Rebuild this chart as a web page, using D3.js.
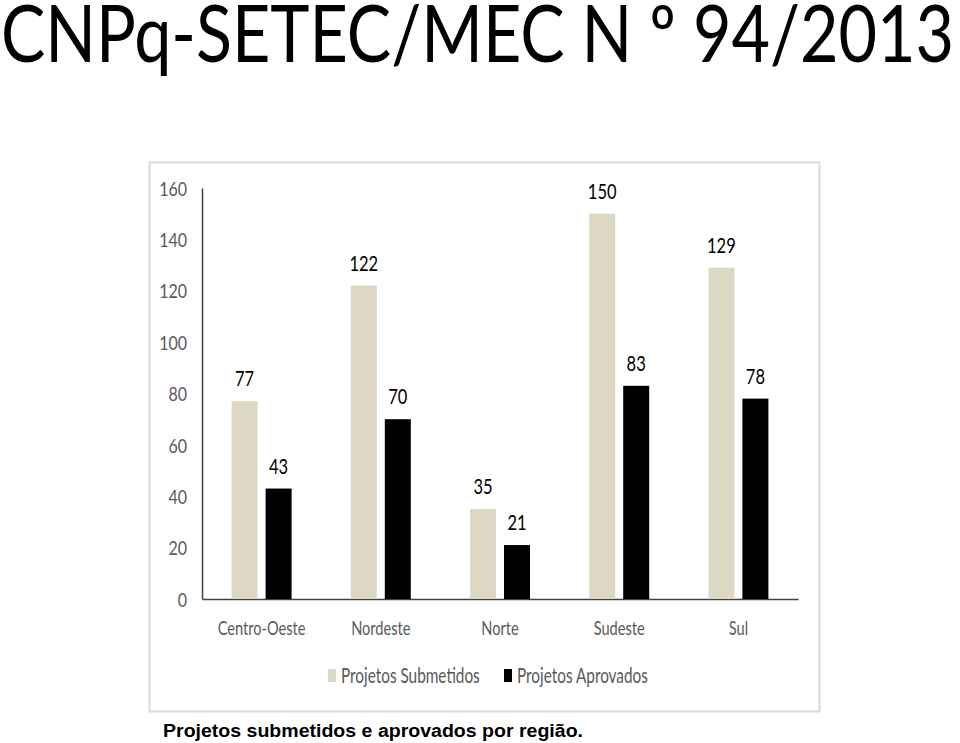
<!DOCTYPE html>
<html>
<head>
<meta charset="utf-8">
<script src="https://cdn.jsdelivr.net/npm/d3@7"></script>
<style>
html,body{margin:0;padding:0;background:#fff;}
svg{display:block;}
</style>
</head>
<body>
<svg id="c" width="960" height="743"></svg>
<script>
const categories = ["Centro-Oeste", "Nordeste", "Norte", "Sudeste", "Sul"];
const seriesNames = ["Projetos Submetidos", "Projetos Aprovados"];
const submetidos = [77, 122, 35, 150, 129];
const aprovados = [43, 70, 21, 83, 78];
const yTicks = [0, 20, 40, 60, 80, 100, 120, 140, 160];
const colors = ["#DDD8C4", "#000000"];

const svg = d3.select("#c");
const chartFont = "Lato, 'Open Sans', sans-serif";

function compress(sel, k) {
  sel.each(function() {
    const w = this.getComputedTextLength();
    d3.select(this).attr("textLength", w * k).attr("lengthAdjust", "spacingAndGlyphs");
  });
}

// Title
svg.append("text")
  .attr("x", 1).attr("y", 62)
  .attr("textLength", 953).attr("lengthAdjust", "spacingAndGlyphs")
  .style("font-family", "Lato, 'Open Sans', sans-serif")
  .style("font-size", "79px")
  .attr("fill", "#000")
  .text("CNPq-SETEC/MEC N º 94/2013");

// frame
svg.append("rect")
  .attr("x", 149.5).attr("y", 162.5).attr("width", 670).attr("height", 549)
  .attr("fill", "#fff").attr("stroke", "#d9d9d9").attr("stroke-width", 2);

const pLeft = 202, pRight = 798, pTop = 188, pBottom = 599;
const x = d3.scaleBand().domain(categories).range([pLeft, pRight]);
const inner = d3.scaleBand().domain(seriesNames).range([0, 60]).paddingInner(8/34);
const y = d3.scaleLinear().domain([0, 160]).range([pBottom, pTop]);

// y axis
const yAxis = d3.axisLeft(y).tickValues(yTicks).tickSize(0).tickPadding(15);
const gy = svg.append("g").attr("transform", `translate(${pLeft},0)`).call(yAxis);
gy.select(".domain").attr("stroke", "#404040").attr("stroke-width", 1.5);
gy.selectAll("text").style("font-family", chartFont).style("font-size", "20px").attr("fill", "#595959")
  .attr("dy", "0.36em");
compress(gy.selectAll("text"), 0.8);

// x axis
const xAxis = d3.axisBottom(x).tickSize(0);
const gx = svg.append("g").attr("transform", `translate(0,${pBottom})`).call(xAxis);
gx.select(".domain").attr("stroke", "#404040").attr("stroke-width", 1.5);
gx.selectAll("text").style("font-family", chartFont).style("font-size", "20px").attr("fill", "#595959")
  .attr("y", 36).attr("dy", 0);
compress(gx.selectAll("text"), 0.73);

const data = categories.map((c, i) => ({c, vals: [submetidos[i], aprovados[i]]}));
const groups = svg.append("g").selectAll("g").data(data).join("g")
  .attr("transform", d => `translate(${x(d.c) + x.bandwidth()/2 - 30},0)`);

groups.selectAll("rect").data(d => d.vals.map((v, j) => ({v, s: seriesNames[j], j})))
  .join("rect")
  .attr("x", d => inner(d.s))
  .attr("width", inner.bandwidth())
  .attr("y", d => y(d.v))
  .attr("height", d => y(0) - y(d.v))
  .attr("fill", d => colors[d.j]);

const vl = groups.selectAll("text.v").data(d => d.vals.map((v, j) => ({v, s: seriesNames[j], j})))
  .join("text").attr("class", "v")
  .attr("x", d => inner(d.s) + inner.bandwidth()/2)
  .attr("y", d => y(d.v) - 15)
  .attr("text-anchor", "middle")
  .style("font-family", chartFont).style("font-size", "22px")
  .attr("fill", "#000")
  .text(d => d.v);
compress(vl, 0.75);

// legend
const legX = [328, 504];
const lg = svg.append("g").selectAll("g").data(seriesNames).join("g")
  .attr("transform", (d, i) => `translate(${legX[i]},669)`);
lg.append("rect").attr("width", 8).attr("height", 13).attr("fill", (d, i) => colors[i]);
const lt = lg.append("text").attr("x", 13).attr("y", 14)
  .style("font-family", chartFont).style("font-size", "21px").attr("fill", "#595959")
  .text(d => d);
compress(lt, 0.73);

// caption
svg.append("text").attr("x", 163).attr("y", 737)
  .attr("textLength", 420).attr("lengthAdjust", "spacingAndGlyphs")
  .style("font-family", "'Liberation Sans', Arial, sans-serif").style("font-weight", "bold")
  .style("font-size", "18px").attr("fill", "#000")
  .text("Projetos submetidos e aprovados por região.");
</script>
</body>
</html>
